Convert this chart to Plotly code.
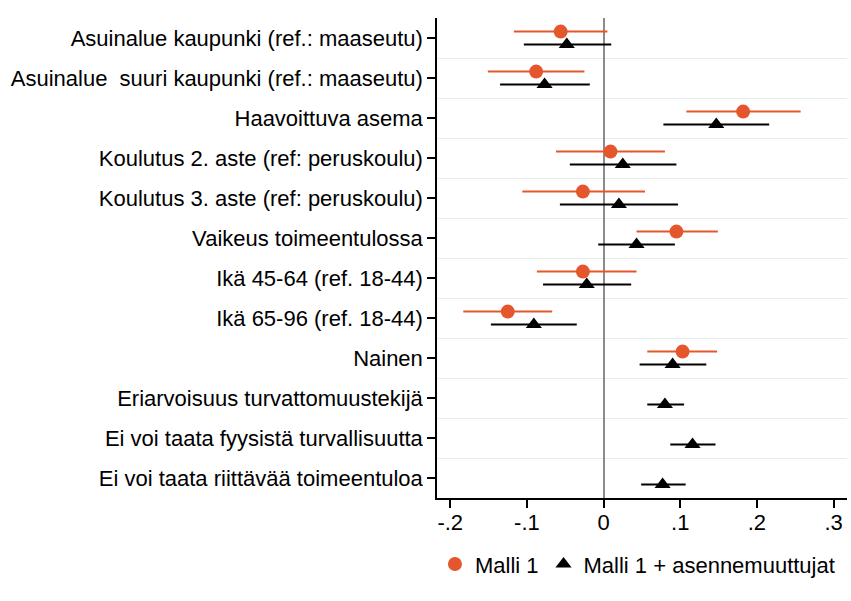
import plotly.graph_objects as go

categories = [
    "Asuinalue kaupunki (ref.: maaseutu)",
    "Asuinalue  suuri kaupunki (ref.: maaseutu)",
    "Haavoittuva asema",
    "Koulutus 2. aste (ref: peruskoulu)",
    "Koulutus 3. aste (ref: peruskoulu)",
    "Vaikeus toimeentulossa",
    "Ikä 45-64 (ref. 18-44)",
    "Ikä 65-96 (ref. 18-44)",
    "Nainen",
    "Eriarvoisuus turvattomuustekijä",
    "Ei voi taata fyysistä turvallisuutta",
    "Ei voi taata riittävää toimeentuloa",
]

# Malli 1 (first 9 categories)
m1_est = [-0.056, -0.088, 0.182, 0.009, -0.027, 0.095, -0.027, -0.125, 0.103]
m1_lo = [-0.117, -0.151, 0.108, -0.062, -0.106, 0.043, -0.087, -0.183, 0.057]
m1_hi = [0.005, -0.025, 0.257, 0.080, 0.054, 0.149, 0.043, -0.067, 0.148]

# Malli 1 + asennemuuttujat (all categories)
m2_est = [-0.048, -0.077, 0.147, 0.025, 0.020, 0.043, -0.022, -0.091, 0.090, 0.080, 0.116, 0.077]
m2_lo = [-0.104, -0.135, 0.078, -0.044, -0.057, -0.007, -0.079, -0.147, 0.047, 0.057, 0.087, 0.049]
m2_hi = [0.010, -0.018, 0.216, 0.095, 0.097, 0.093, 0.036, -0.035, 0.134, 0.105, 0.146, 0.107]

x_tickvals = [-0.2, -0.1, 0, 0.1, 0.2, 0.3]
x_ticktext = ["-.2", "-.1", "0", ".1", ".2", ".3"]

ORANGE = "#e4562b"
FONT = "Liberation Sans, Arial, sans-serif"

pos = list(range(len(categories)))
off = 0.16

fig = go.Figure()
fig.add_trace(go.Scatter(
    x=m1_est,
    y=[p - off for p in pos[:len(m1_est)]],
    mode="markers",
    name="Malli 1",
    marker=dict(symbol="circle", size=14, color=ORANGE),
    error_x=dict(type="data", symmetric=False,
                 array=[h - e for h, e in zip(m1_hi, m1_est)],
                 arrayminus=[e - l for e, l in zip(m1_est, m1_lo)],
                 color=ORANGE, thickness=2, width=0),
))
fig.add_trace(go.Scatter(
    x=m2_est,
    y=[p + off for p in pos[:len(m2_est)]],
    mode="markers",
    name="Malli 1 + asennemuuttujat",
    marker=dict(symbol="triangle-up", size=14, color="black"),
    error_x=dict(type="data", symmetric=False,
                 array=[h - e for h, e in zip(m2_hi, m2_est)],
                 arrayminus=[e - l for e, l in zip(m2_est, m2_lo)],
                 color="black", thickness=2, width=0),
))

fig.update_layout(
    width=851, height=601,
    margin=dict(l=437, r=4, t=18, b=103),
    paper_bgcolor="white", plot_bgcolor="white",
    font=dict(family=FONT, size=22, color="black"),
    showlegend=True,
    legend=dict(orientation="h", x=-0.005, xanchor="left", y=-0.138, yanchor="middle",
                font=dict(size=22), itemwidth=30, tracegroupgap=0,
                bgcolor="rgba(0,0,0,0)"),
)
fig.update_xaxes(
    range=[-0.2173, 0.3175],
    tickvals=x_tickvals, ticktext=x_ticktext,
    ticks="outside", ticklen=8, tickwidth=1.5, tickcolor="black",
    showline=True, linecolor="black", linewidth=1.5,
    showgrid=False,
    zeroline=True, zerolinecolor="#8c8c8c", zerolinewidth=1.5,
    tickfont=dict(size=22), ticklabelstandoff=-4,
)
fig.update_yaxes(
    range=[11.5, -0.5],
    tickvals=pos, ticktext=categories,
    ticks="outside", ticklen=8, tickwidth=1.5, tickcolor="black",
    showline=True, linecolor="black", linewidth=1.5,
    showgrid=False, zeroline=False,
    minor=dict(tickvals=[p + 0.5 for p in pos[:-1]], showgrid=True,
               gridcolor="#e6ecec", gridwidth=1, ticks=""),
    tickfont=dict(size=22),
)

fig.write_html("out.html", config={"displayModeBar": False},
               post_script="document.body.style.margin='0';")
